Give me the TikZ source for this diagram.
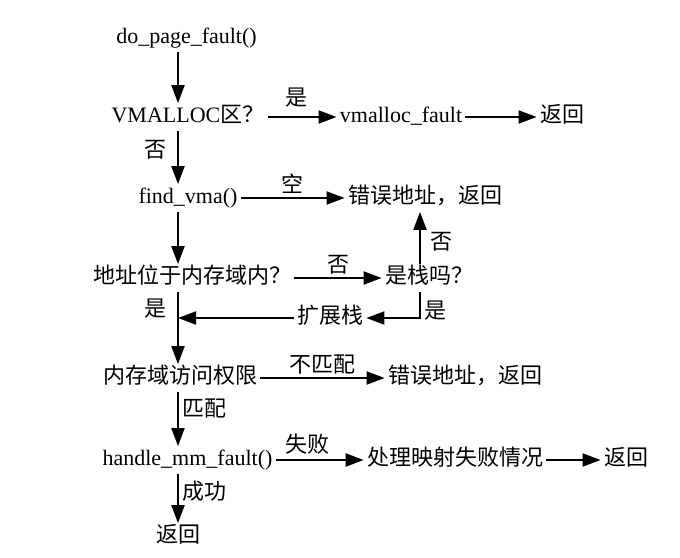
\documentclass[tikz,border=0pt]{standalone}
\usepackage{fontspec}
\setmainfont{Liberation Serif}
\newfontfamily\cjk{Noto Sans CJK SC}
\usetikzlibrary{arrows.meta}
\newcommand{\zh}[1]{{\cjk #1}}
\tikzset{
  txt/.style={font=\fontsize{11}{13}\selectfont, inner sep=1.5pt, text height=8pt, text depth=2.5pt},
  zh/.style={txt, font=\cjk\fontsize{11}{13}\selectfont},
  lab/.style={font=\cjk\fontsize{11}{13}\selectfont, inner sep=1.5pt},
  flow/.style={-{Triangle[length=9pt,width=6.5pt]}, line width=1pt},
}

\begin{document}
\begin{tikzpicture}[x=.5pt,y=-.5pt]
\path[use as bounding box] (0,0) rectangle (680,557);
\coordinate (spine) at (178,0);
\coordinate (stkx) at (420,0);
% nodes
\node[txt] (dpf)  at (186.5,38) {do\_page\_fault()};
\node[txt] (vmq)  at (188,117)  {VMALLOC\zh{区？}};
\node[txt] (vmf)  at (401,117)  {vmalloc\_fault};
\node[zh]  (ret1) at (562,117)  {返回};
\node[txt] (fvma) at (188,198)  {find\_vma()};
\node[zh]  (err1) at (425,198)  {错误地址，返回};
\node[zh]  (inq)  at (192,278)  {地址位于内存域内？};
\node[zh]  (stk)  at (429,278)  {是栈吗？};
\node[zh]  (ext)  at (330,318)  {扩展栈};
\node[zh]  (acc)  at (180,378)  {内存域访问权限};
\node[zh]  (err2) at (465,378)  {错误地址，返回};
\node[txt] (hmf)  at (187.5,460) {handle\_mm\_fault()};
\node[zh]  (fail) at (455,460)  {处理映射失败情况};
\node[zh]  (ret2) at (626,460)  {返回};
\node[zh]  (ret3) at (178,537)  {返回};
% main line
\draw[flow] (dpf.south -| spine) -- (vmq.north -| spine);
\draw[flow] (vmq.south -| spine) -- node[lab,left=4pt,pos=.35] {否} (fvma.north -| spine);
\draw[flow] (fvma.south -| spine) -- (inq.north -| spine);
\draw[flow] (inq.south -| spine) -- node[lab,left=4pt,pos=.23] {是} (acc.north -| spine);
\draw[flow] (acc.south -| spine) -- node[lab,right,pos=.31] {匹配} (hmf.north -| spine);
\draw[flow] (hmf.south -| spine) -- node[lab,right,pos=.36] {成功} (ret3.north -| spine);
% branches
\draw[flow] (vmq) -- node[lab,above=3pt,pos=.42] {是} (vmf);
\draw[flow] (vmf) -- (ret1);
\draw[flow] (fvma) -- node[lab,above] {空} (err1);
\draw[flow] (inq) -- node[lab,above] {否} (stk);
\draw[flow] (stk.north -| stkx) -- node[lab,right=3pt,pos=.43] {否} (err1.south -| stkx);
\draw[flow] (stk.south -| stkx) |- node[lab,right,pos=.35] {是} (ext.east);
\draw[flow] (ext.west) -- (ext.west -| spine);
\draw[flow] (acc) -- node[lab,above] {不匹配} (err2);
\draw[flow] (hmf) -- node[lab,above=1pt,pos=.36] {失败} (fail);
\draw[flow] (fail) -- (ret2);
\end{tikzpicture}
\end{document}
